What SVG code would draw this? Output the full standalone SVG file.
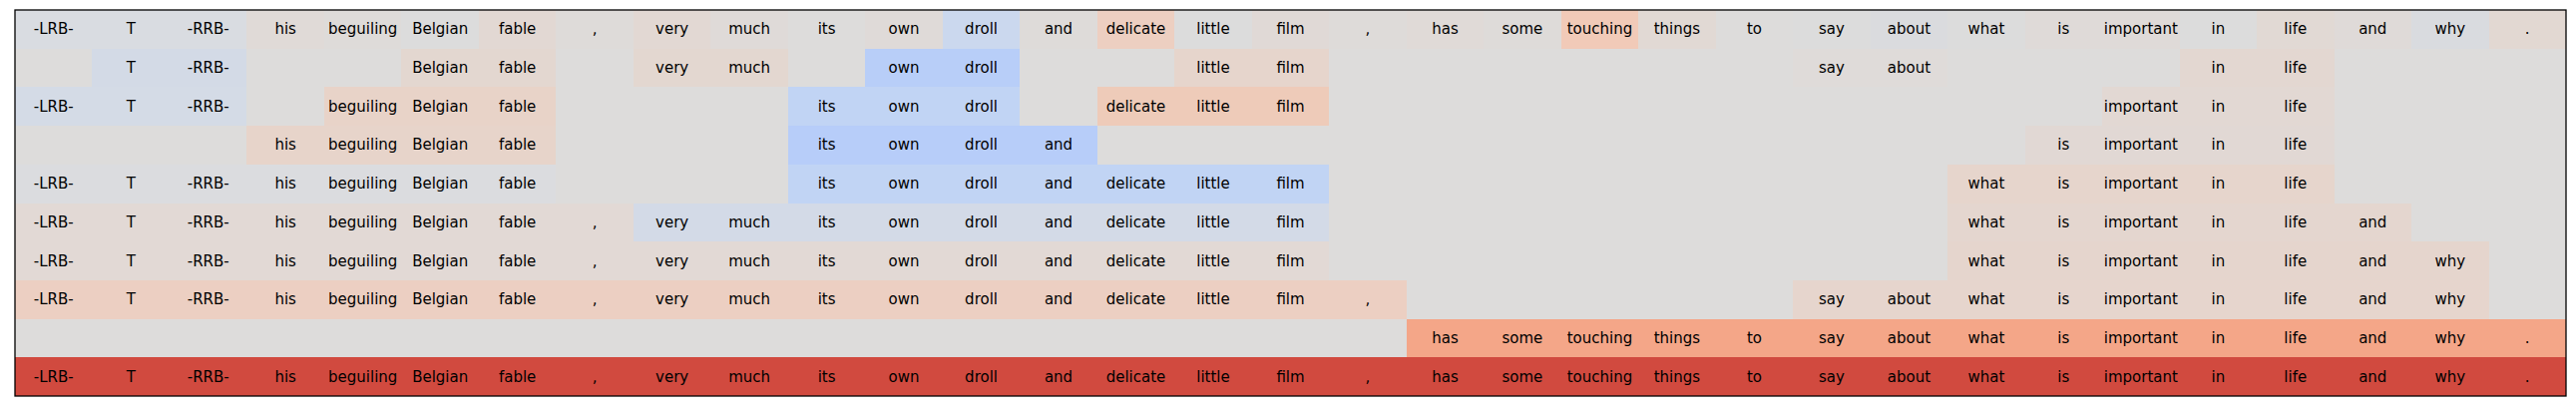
<svg xmlns="http://www.w3.org/2000/svg" width="2582" height="412" viewBox="0 0 2582 412">
<style>
.t{font-family:"DejaVu Sans","Liberation Sans",sans-serif;font-size:15px;text-anchor:middle;fill:#000}
rect.c{shape-rendering:crispEdges}
</style>
<rect x="0" y="0" width="2582" height="412" fill="#ffffff"/>
<rect class="c" x="15" y="10" width="2557" height="387" fill="#dddcdb"/>
<g id="row-0">
<rect class="c" x="15" y="10" width="232.45" height="38.7" fill="#d9dce1"/>
<rect class="c" x="247.45" y="10" width="77.49" height="38.7" fill="#e0dad7"/>
<rect class="c" x="324.94" y="10" width="77.49" height="38.7" fill="#dedbd9"/>
<rect class="c" x="402.42" y="10" width="77.49" height="38.7" fill="#dcdcdc"/>
<rect class="c" x="479.91" y="10" width="77.49" height="38.7" fill="#e2d8d3"/>
<rect class="c" x="557.39" y="10" width="77.49" height="38.7" fill="#dedbd9"/>
<rect class="c" x="634.88" y="10" width="77.49" height="38.7" fill="#e2d8d3"/>
<rect class="c" x="712.36" y="10" width="77.49" height="38.7" fill="#dfdad8"/>
<rect class="c" x="789.85" y="10" width="77.49" height="38.7" fill="#dddcdb"/>
<rect class="c" x="867.33" y="10" width="77.49" height="38.7" fill="#dfdad8"/>
<rect class="c" x="944.82" y="10" width="77.49" height="38.7" fill="#cbd8ee"/>
<rect class="c" x="1022.30" y="10" width="77.49" height="38.7" fill="#dedbd9"/>
<rect class="c" x="1099.79" y="10" width="77.49" height="38.7" fill="#edcfc1"/>
<rect class="c" x="1177.27" y="10" width="77.49" height="38.7" fill="#dcdcdc"/>
<rect class="c" x="1254.76" y="10" width="77.49" height="38.7" fill="#e0d9d6"/>
<rect class="c" x="1332.24" y="10" width="77.49" height="38.7" fill="#dedbd9"/>
<rect class="c" x="1409.73" y="10" width="77.49" height="38.7" fill="#e0dad7"/>
<rect class="c" x="1487.21" y="10" width="77.49" height="38.7" fill="#dedbd9"/>
<rect class="c" x="1564.70" y="10" width="77.49" height="38.7" fill="#f1cab8"/>
<rect class="c" x="1642.18" y="10" width="77.49" height="38.7" fill="#e1d9d4"/>
<rect class="c" x="1719.67" y="10" width="77.49" height="38.7" fill="#dddcdb"/>
<rect class="c" x="1797.15" y="10" width="77.49" height="38.7" fill="#dcdcdc"/>
<rect class="c" x="1874.64" y="10" width="77.49" height="38.7" fill="#dadbde"/>
<rect class="c" x="1952.12" y="10" width="77.49" height="38.7" fill="#dcdcdc"/>
<rect class="c" x="2029.61" y="10" width="154.97" height="38.7" fill="#dfdad8"/>
<rect class="c" x="2184.58" y="10" width="77.49" height="38.7" fill="#dcdcdc"/>
<rect class="c" x="2262.06" y="10" width="77.49" height="38.7" fill="#e1d9d4"/>
<rect class="c" x="2339.55" y="10" width="77.49" height="38.7" fill="#dfdad8"/>
<rect class="c" x="2417.03" y="10" width="77.49" height="38.7" fill="#d9dbdf"/>
<rect class="c" x="2494.52" y="10" width="77.48" height="38.7" fill="#e2d8d2"/>
<text class="t" x="53.74" y="34.35">-LRB-</text>
<text class="t" x="131.23" y="34.35">T</text>
<text class="t" x="208.71" y="34.35">-RRB-</text>
<text class="t" x="286.20" y="34.35">his</text>
<text class="t" x="363.68" y="34.35">beguiling</text>
<text class="t" x="441.17" y="34.35">Belgian</text>
<text class="t" x="518.65" y="34.35">fable</text>
<text class="t" x="596.14" y="34.35">,</text>
<text class="t" x="673.62" y="34.35">very</text>
<text class="t" x="751.11" y="34.35">much</text>
<text class="t" x="828.59" y="34.35">its</text>
<text class="t" x="906.08" y="34.35">own</text>
<text class="t" x="983.56" y="34.35">droll</text>
<text class="t" x="1061.05" y="34.35">and</text>
<text class="t" x="1138.53" y="34.35">delicate</text>
<text class="t" x="1216.02" y="34.35">little</text>
<text class="t" x="1293.50" y="34.35">film</text>
<text class="t" x="1370.98" y="34.35">,</text>
<text class="t" x="1448.47" y="34.35">has</text>
<text class="t" x="1525.95" y="34.35">some</text>
<text class="t" x="1603.44" y="34.35">touching</text>
<text class="t" x="1680.92" y="34.35">things</text>
<text class="t" x="1758.41" y="34.35">to</text>
<text class="t" x="1835.89" y="34.35">say</text>
<text class="t" x="1913.38" y="34.35">about</text>
<text class="t" x="1990.86" y="34.35">what</text>
<text class="t" x="2068.35" y="34.35">is</text>
<text class="t" x="2145.83" y="34.35">important</text>
<text class="t" x="2223.32" y="34.35">in</text>
<text class="t" x="2300.80" y="34.35">life</text>
<text class="t" x="2378.29" y="34.35">and</text>
<text class="t" x="2455.77" y="34.35">why</text>
<text class="t" x="2533.26" y="34.35">.</text>
</g>
<g id="row-1">
<rect class="c" x="92.48" y="48.7" width="154.97" height="38.7" fill="#d3dae6"/>
<rect class="c" x="402.42" y="48.7" width="154.97" height="38.7" fill="#e3d7d0"/>
<rect class="c" x="634.88" y="48.7" width="154.97" height="38.7" fill="#e3d7d0"/>
<rect class="c" x="867.33" y="48.7" width="154.97" height="38.7" fill="#b8cef8"/>
<rect class="c" x="1177.27" y="48.7" width="154.97" height="38.7" fill="#e6d5cc"/>
<rect class="c" x="1797.15" y="48.7" width="154.97" height="38.7" fill="#dfdbd9"/>
<rect class="c" x="2184.58" y="48.7" width="154.97" height="38.7" fill="#e3d7d1"/>
<text class="t" x="131.23" y="73.05">T</text>
<text class="t" x="208.71" y="73.05">-RRB-</text>
<text class="t" x="441.17" y="73.05">Belgian</text>
<text class="t" x="518.65" y="73.05">fable</text>
<text class="t" x="673.62" y="73.05">very</text>
<text class="t" x="751.11" y="73.05">much</text>
<text class="t" x="906.08" y="73.05">own</text>
<text class="t" x="983.56" y="73.05">droll</text>
<text class="t" x="1216.02" y="73.05">little</text>
<text class="t" x="1293.50" y="73.05">film</text>
<text class="t" x="1835.89" y="73.05">say</text>
<text class="t" x="1913.38" y="73.05">about</text>
<text class="t" x="2223.32" y="73.05">in</text>
<text class="t" x="2300.80" y="73.05">life</text>
</g>
<g id="row-2">
<rect class="c" x="15" y="87.4" width="232.45" height="38.7" fill="#d4dbe6"/>
<rect class="c" x="324.94" y="87.4" width="232.45" height="38.7" fill="#e8d3c8"/>
<rect class="c" x="789.85" y="87.4" width="232.45" height="38.7" fill="#c1d4f4"/>
<rect class="c" x="1099.79" y="87.4" width="232.45" height="38.7" fill="#eecbb9"/>
<rect class="c" x="2107.09" y="87.4" width="232.46" height="38.7" fill="#e2d8d3"/>
<text class="t" x="53.74" y="111.75">-LRB-</text>
<text class="t" x="131.23" y="111.75">T</text>
<text class="t" x="208.71" y="111.75">-RRB-</text>
<text class="t" x="363.68" y="111.75">beguiling</text>
<text class="t" x="441.17" y="111.75">Belgian</text>
<text class="t" x="518.65" y="111.75">fable</text>
<text class="t" x="828.59" y="111.75">its</text>
<text class="t" x="906.08" y="111.75">own</text>
<text class="t" x="983.56" y="111.75">droll</text>
<text class="t" x="1138.53" y="111.75">delicate</text>
<text class="t" x="1216.02" y="111.75">little</text>
<text class="t" x="1293.50" y="111.75">film</text>
<text class="t" x="2145.83" y="111.75">important</text>
<text class="t" x="2223.32" y="111.75">in</text>
<text class="t" x="2300.80" y="111.75">life</text>
</g>
<g id="row-3">
<rect class="c" x="247.45" y="126.1" width="309.94" height="38.7" fill="#e7d4ca"/>
<rect class="c" x="789.85" y="126.1" width="309.94" height="38.7" fill="#b7cdf9"/>
<rect class="c" x="2029.61" y="126.1" width="309.94" height="38.7" fill="#e1d8d4"/>
<text class="t" x="286.20" y="150.45">his</text>
<text class="t" x="363.68" y="150.45">beguiling</text>
<text class="t" x="441.17" y="150.45">Belgian</text>
<text class="t" x="518.65" y="150.45">fable</text>
<text class="t" x="828.59" y="150.45">its</text>
<text class="t" x="906.08" y="150.45">own</text>
<text class="t" x="983.56" y="150.45">droll</text>
<text class="t" x="1061.05" y="150.45">and</text>
<text class="t" x="2068.35" y="150.45">is</text>
<text class="t" x="2145.83" y="150.45">important</text>
<text class="t" x="2223.32" y="150.45">in</text>
<text class="t" x="2300.80" y="150.45">life</text>
</g>
<g id="row-4">
<rect class="c" x="15" y="164.8" width="542.39" height="38.7" fill="#dbdcdf"/>
<rect class="c" x="789.85" y="164.8" width="542.39" height="38.7" fill="#c1d4f4"/>
<rect class="c" x="1952.12" y="164.8" width="387.43" height="38.7" fill="#e6d5cc"/>
<text class="t" x="53.74" y="189.15">-LRB-</text>
<text class="t" x="131.23" y="189.15">T</text>
<text class="t" x="208.71" y="189.15">-RRB-</text>
<text class="t" x="286.20" y="189.15">his</text>
<text class="t" x="363.68" y="189.15">beguiling</text>
<text class="t" x="441.17" y="189.15">Belgian</text>
<text class="t" x="518.65" y="189.15">fable</text>
<text class="t" x="828.59" y="189.15">its</text>
<text class="t" x="906.08" y="189.15">own</text>
<text class="t" x="983.56" y="189.15">droll</text>
<text class="t" x="1061.05" y="189.15">and</text>
<text class="t" x="1138.53" y="189.15">delicate</text>
<text class="t" x="1216.02" y="189.15">little</text>
<text class="t" x="1293.50" y="189.15">film</text>
<text class="t" x="1990.86" y="189.15">what</text>
<text class="t" x="2068.35" y="189.15">is</text>
<text class="t" x="2145.83" y="189.15">important</text>
<text class="t" x="2223.32" y="189.15">in</text>
<text class="t" x="2300.80" y="189.15">life</text>
</g>
<g id="row-5">
<rect class="c" x="15" y="203.5" width="619.88" height="38.7" fill="#e2d9d5"/>
<rect class="c" x="634.88" y="203.5" width="697.36" height="38.7" fill="#d3dae7"/>
<rect class="c" x="1952.12" y="203.5" width="464.91" height="38.7" fill="#e4d6cf"/>
<text class="t" x="53.74" y="227.85">-LRB-</text>
<text class="t" x="131.23" y="227.85">T</text>
<text class="t" x="208.71" y="227.85">-RRB-</text>
<text class="t" x="286.20" y="227.85">his</text>
<text class="t" x="363.68" y="227.85">beguiling</text>
<text class="t" x="441.17" y="227.85">Belgian</text>
<text class="t" x="518.65" y="227.85">fable</text>
<text class="t" x="596.14" y="227.85">,</text>
<text class="t" x="673.62" y="227.85">very</text>
<text class="t" x="751.11" y="227.85">much</text>
<text class="t" x="828.59" y="227.85">its</text>
<text class="t" x="906.08" y="227.85">own</text>
<text class="t" x="983.56" y="227.85">droll</text>
<text class="t" x="1061.05" y="227.85">and</text>
<text class="t" x="1138.53" y="227.85">delicate</text>
<text class="t" x="1216.02" y="227.85">little</text>
<text class="t" x="1293.50" y="227.85">film</text>
<text class="t" x="1990.86" y="227.85">what</text>
<text class="t" x="2068.35" y="227.85">is</text>
<text class="t" x="2145.83" y="227.85">important</text>
<text class="t" x="2223.32" y="227.85">in</text>
<text class="t" x="2300.80" y="227.85">life</text>
<text class="t" x="2378.29" y="227.85">and</text>
</g>
<g id="row-6">
<rect class="c" x="15" y="242.2" width="1317.24" height="38.7" fill="#e2d9d5"/>
<rect class="c" x="1952.12" y="242.2" width="542.40" height="38.7" fill="#e5d5cd"/>
<text class="t" x="53.74" y="266.55">-LRB-</text>
<text class="t" x="131.23" y="266.55">T</text>
<text class="t" x="208.71" y="266.55">-RRB-</text>
<text class="t" x="286.20" y="266.55">his</text>
<text class="t" x="363.68" y="266.55">beguiling</text>
<text class="t" x="441.17" y="266.55">Belgian</text>
<text class="t" x="518.65" y="266.55">fable</text>
<text class="t" x="596.14" y="266.55">,</text>
<text class="t" x="673.62" y="266.55">very</text>
<text class="t" x="751.11" y="266.55">much</text>
<text class="t" x="828.59" y="266.55">its</text>
<text class="t" x="906.08" y="266.55">own</text>
<text class="t" x="983.56" y="266.55">droll</text>
<text class="t" x="1061.05" y="266.55">and</text>
<text class="t" x="1138.53" y="266.55">delicate</text>
<text class="t" x="1216.02" y="266.55">little</text>
<text class="t" x="1293.50" y="266.55">film</text>
<text class="t" x="1990.86" y="266.55">what</text>
<text class="t" x="2068.35" y="266.55">is</text>
<text class="t" x="2145.83" y="266.55">important</text>
<text class="t" x="2223.32" y="266.55">in</text>
<text class="t" x="2300.80" y="266.55">life</text>
<text class="t" x="2378.29" y="266.55">and</text>
<text class="t" x="2455.77" y="266.55">why</text>
</g>
<g id="row-7">
<rect class="c" x="15" y="280.9" width="1394.73" height="38.7" fill="#eccfc2"/>
<rect class="c" x="1797.15" y="280.9" width="697.37" height="38.7" fill="#e6d5cd"/>
<text class="t" x="53.74" y="305.25">-LRB-</text>
<text class="t" x="131.23" y="305.25">T</text>
<text class="t" x="208.71" y="305.25">-RRB-</text>
<text class="t" x="286.20" y="305.25">his</text>
<text class="t" x="363.68" y="305.25">beguiling</text>
<text class="t" x="441.17" y="305.25">Belgian</text>
<text class="t" x="518.65" y="305.25">fable</text>
<text class="t" x="596.14" y="305.25">,</text>
<text class="t" x="673.62" y="305.25">very</text>
<text class="t" x="751.11" y="305.25">much</text>
<text class="t" x="828.59" y="305.25">its</text>
<text class="t" x="906.08" y="305.25">own</text>
<text class="t" x="983.56" y="305.25">droll</text>
<text class="t" x="1061.05" y="305.25">and</text>
<text class="t" x="1138.53" y="305.25">delicate</text>
<text class="t" x="1216.02" y="305.25">little</text>
<text class="t" x="1293.50" y="305.25">film</text>
<text class="t" x="1370.98" y="305.25">,</text>
<text class="t" x="1835.89" y="305.25">say</text>
<text class="t" x="1913.38" y="305.25">about</text>
<text class="t" x="1990.86" y="305.25">what</text>
<text class="t" x="2068.35" y="305.25">is</text>
<text class="t" x="2145.83" y="305.25">important</text>
<text class="t" x="2223.32" y="305.25">in</text>
<text class="t" x="2300.80" y="305.25">life</text>
<text class="t" x="2378.29" y="305.25">and</text>
<text class="t" x="2455.77" y="305.25">why</text>
</g>
<g id="row-8">
<rect class="c" x="1409.73" y="319.6" width="1162.27" height="38.7" fill="#f4a688"/>
<text class="t" x="1448.47" y="343.95">has</text>
<text class="t" x="1525.95" y="343.95">some</text>
<text class="t" x="1603.44" y="343.95">touching</text>
<text class="t" x="1680.92" y="343.95">things</text>
<text class="t" x="1758.41" y="343.95">to</text>
<text class="t" x="1835.89" y="343.95">say</text>
<text class="t" x="1913.38" y="343.95">about</text>
<text class="t" x="1990.86" y="343.95">what</text>
<text class="t" x="2068.35" y="343.95">is</text>
<text class="t" x="2145.83" y="343.95">important</text>
<text class="t" x="2223.32" y="343.95">in</text>
<text class="t" x="2300.80" y="343.95">life</text>
<text class="t" x="2378.29" y="343.95">and</text>
<text class="t" x="2455.77" y="343.95">why</text>
<text class="t" x="2533.26" y="343.95">.</text>
</g>
<g id="row-9">
<rect class="c" x="15" y="358.3" width="2557" height="38.7" fill="#d14a3f"/>
<text class="t" x="53.74" y="382.65">-LRB-</text>
<text class="t" x="131.23" y="382.65">T</text>
<text class="t" x="208.71" y="382.65">-RRB-</text>
<text class="t" x="286.20" y="382.65">his</text>
<text class="t" x="363.68" y="382.65">beguiling</text>
<text class="t" x="441.17" y="382.65">Belgian</text>
<text class="t" x="518.65" y="382.65">fable</text>
<text class="t" x="596.14" y="382.65">,</text>
<text class="t" x="673.62" y="382.65">very</text>
<text class="t" x="751.11" y="382.65">much</text>
<text class="t" x="828.59" y="382.65">its</text>
<text class="t" x="906.08" y="382.65">own</text>
<text class="t" x="983.56" y="382.65">droll</text>
<text class="t" x="1061.05" y="382.65">and</text>
<text class="t" x="1138.53" y="382.65">delicate</text>
<text class="t" x="1216.02" y="382.65">little</text>
<text class="t" x="1293.50" y="382.65">film</text>
<text class="t" x="1370.98" y="382.65">,</text>
<text class="t" x="1448.47" y="382.65">has</text>
<text class="t" x="1525.95" y="382.65">some</text>
<text class="t" x="1603.44" y="382.65">touching</text>
<text class="t" x="1680.92" y="382.65">things</text>
<text class="t" x="1758.41" y="382.65">to</text>
<text class="t" x="1835.89" y="382.65">say</text>
<text class="t" x="1913.38" y="382.65">about</text>
<text class="t" x="1990.86" y="382.65">what</text>
<text class="t" x="2068.35" y="382.65">is</text>
<text class="t" x="2145.83" y="382.65">important</text>
<text class="t" x="2223.32" y="382.65">in</text>
<text class="t" x="2300.80" y="382.65">life</text>
<text class="t" x="2378.29" y="382.65">and</text>
<text class="t" x="2455.77" y="382.65">why</text>
<text class="t" x="2533.26" y="382.65">.</text>
</g>
<g id="connectors"></g>
<rect x="15" y="10" width="2557" height="387" fill="none" stroke="#000000" stroke-width="1.3"/>
</svg>
